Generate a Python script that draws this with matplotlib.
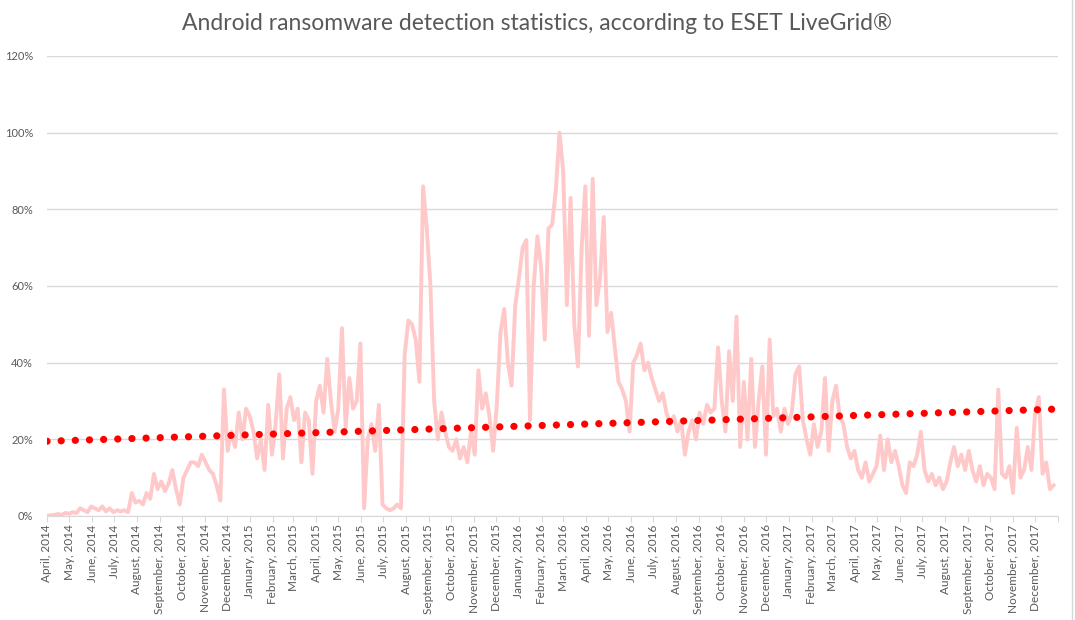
import numpy as np
import pandas as pd
import matplotlib
matplotlib.use('Agg')
import matplotlib.pyplot as plt
import matplotlib.dates as mdates
from matplotlib.ticker import FuncFormatter
from matplotlib.lines import Line2D

##################################
#            DADOS               #
##################################

inicio = '2014-04-01'      # primeira leitura
passo = 5                  # dias entre leituras

deteccoes = [
    0, 0.2, 0.3, 0.5, 0.3, 0.8, 0.6, 1.0, 0.8, 2.0,
    1.5, 1.0, 2.5, 2.0, 1.5, 2.5, 1.2, 2.0, 1.0, 1.5,
    1.2, 1.5, 1.0, 6.0, 3.5, 4.0, 3.0, 6.0, 4.5, 11.0,
    7.0, 9.0, 6.5, 8.5, 12.0, 7.0, 3.0, 10.0, 12.0, 14.0,
    14, 13, 16, 14, 12, 11, 8, 4, 33, 17,
    22, 18, 27, 20, 28, 26, 22, 15, 20, 12,
    29, 16, 24, 37, 15, 28, 31, 25, 28, 14,
    27, 25, 11, 30, 34, 27, 41, 30, 22, 28,
    49, 23, 36, 28, 30, 45, 2, 20, 24, 17,
    29, 3, 2, 1.5, 2, 3, 2, 42, 51, 50,
    46, 35, 86, 75, 60, 30, 20, 27, 22, 18,
    17, 20, 15, 18, 14, 22, 16, 38, 28, 32,
    26, 17, 29, 48, 54, 40, 34, 55, 62, 70,
    72, 25, 60, 73, 65, 46, 75, 76, 85, 100,
    90, 55, 83, 50, 39, 70, 86, 47, 88, 55,
    62, 78, 48, 53, 44, 35, 33, 30, 22, 40,
    42, 45, 38, 40, 36, 33, 30, 32, 27, 24,
    26, 22, 25, 16, 22, 25, 20, 27, 24, 29,
    27, 28, 44, 30, 22, 43, 30, 52, 18, 35,
    20, 41, 18, 30, 39, 16, 46, 26, 28, 22,
    28, 24, 27, 37, 39, 25, 20, 16, 24, 18,
    22, 36, 17, 30, 34, 26, 24, 18, 15, 17,
    12, 10, 14, 9, 11, 13, 21, 12, 20, 14,
    17, 13, 8, 6, 14, 13, 16, 22, 12, 9,
    11, 8, 10, 7, 9, 14, 18, 13, 16, 12,
    17, 12, 9, 13, 8, 11, 10, 7, 33, 11,
    10, 13, 6, 23, 10, 12, 18, 12, 27, 31,
    11, 14, 7, 8,
]

# linha de tendencia linear (inicio e fim)
tendencia_datas = ['2014-04-01', '2017-12-31']
tendencia = [19.5, 27.9]

titulo = 'Android ransomware detection statistics, according to ESET LiveGrid®'
y_ticks = [0, 20, 40, 60, 80, 100, 120]

##################################
#           GRAFICO              #
##################################

datas = pd.date_range(inicio, periods=len(deteccoes), freq=str(passo) + 'D')
meses = pd.date_range('2014-04-01', '2018-01-01', freq='MS')

cinza = '#595959'
grade = '#D9D9D9'

plt.rcParams['font.family'] = ['Lato', 'DejaVu Sans']

fig = plt.figure(figsize=(10.75, 6.2), dpi=100, facecolor='#FFFFFF')
ax = fig.add_axes([47/1075, 1 - 516/620, (1058 - 47)/1075, (516 - 56)/620])

ax.plot(datas, deteccoes, color='#FFC9C9', linewidth=2.8, solid_joinstyle='round', zorder=2)
ax.plot(pd.to_datetime(tendencia_datas), tendencia, color='#FF0000', linewidth=5.2,
        linestyle=(0, (0.01, 1.95)), dash_capstyle='round', zorder=3)

ax.set_xlim(meses[0], meses[-1])
ax.set_ylim(0, 120)
ax.set_yticks(y_ticks)
ax.yaxis.set_major_formatter(FuncFormatter(lambda v, p: '%d%%' % v))
ax.grid(axis='y', color=grade, linewidth=1)
ax.set_axisbelow(True)

ax.set_xticks(meses)
ax.set_xticklabels([m.strftime('%B, %Y') for m in meses[:-1]] + [''], rotation=90)

for s in ['top', 'right', 'left']:
    ax.spines[s].set_visible(False)
ax.spines['bottom'].set_color(grade)
ax.tick_params(axis='y', length=0, labelsize=8, labelcolor=cinza, pad=10)
ax.tick_params(axis='x', length=4, color=grade, labelsize=8.5, labelcolor=cinza, pad=2)

fig.text(0.5, 0.962, titulo, ha='center', va='center', fontsize=16.5, color=cinza)
fig.add_artist(Line2D([1072/1075, 1072/1075], [0, 1], color=grade, linewidth=1))

fig.savefig('out.png', dpi=100)
